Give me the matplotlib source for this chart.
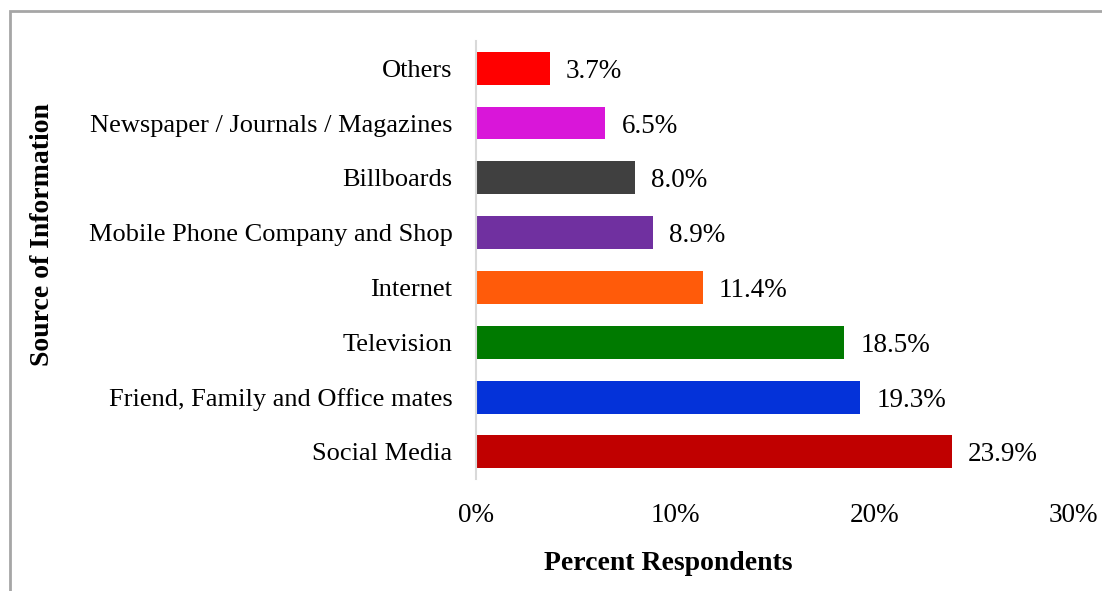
import matplotlib.pyplot as plt
from matplotlib.patches import Rectangle

# data, bottom to top
sources = ['Social Media', 'Friend, Family and Office mates', 'Television', 'Internet',
           'Mobile Phone Company and Shop', 'Billboards', 'Newspaper / Journals / Magazines', 'Others']
percent = [23.9, 19.3, 18.5, 11.4, 8.9, 8.0, 6.5, 3.7]
colors = ['#C00000', '#0432D9', '#007A00', '#FF5B0A', '#7030A0', '#404040', '#D916D9', '#FF0000']
xticks = [0, 10, 20, 30]

plt.rcParams['font.family'] = ['Liberation Serif', 'DejaVu Serif']

fig = plt.figure(figsize=(11.02, 5.91), dpi=100)
ax = fig.add_axes([0.432, 0.189, 0.542, 0.742])

ypos = range(len(sources))
ax.barh(ypos, percent, height=0.6, color=colors)
for y, v in zip(ypos, percent):
    ax.text(v + 0.8, y, '%.1f%%' % v, va='center_baseline', ha='left', fontsize=19.5)

ax.set_xlim(0, 30)
ax.set_ylim(-0.5, len(sources) - 0.5)
ax.set_yticks(list(ypos))
ax.set_yticklabels(sources, fontsize=19)
ax.set_xticks(xticks)
ax.set_xticklabels(['%d%%' % t for t in xticks], fontsize=19.5)
ax.tick_params(axis='both', length=0)
ax.tick_params(axis='y', pad=17)
ax.tick_params(axis='x', pad=17)

for s in ['top', 'right', 'bottom']:
    ax.spines[s].set_visible(False)
ax.spines['left'].set_color('#D9D9D9')
ax.spines['left'].set_linewidth(1.5)

fig.text(668 / 1102, 1 - 563 / 591, 'Percent Respondents', fontsize=20,
         fontweight='bold', ha='center', va='center')
fig.text(43 / 1102, 1 - 235 / 591, 'Source of Information', rotation=90, fontsize=20,
         fontweight='bold', ha='center', va='center')

# outer chart border (cropped on the right and bottom)
fig.patches.append(Rectangle((10 / 1102, -0.1), 1.2, 1.1 - 11 / 591, transform=fig.transFigure,
                             fill=False, edgecolor='#A6A6A6', linewidth=2, clip_on=False))

fig.savefig('out.png', dpi=100)
